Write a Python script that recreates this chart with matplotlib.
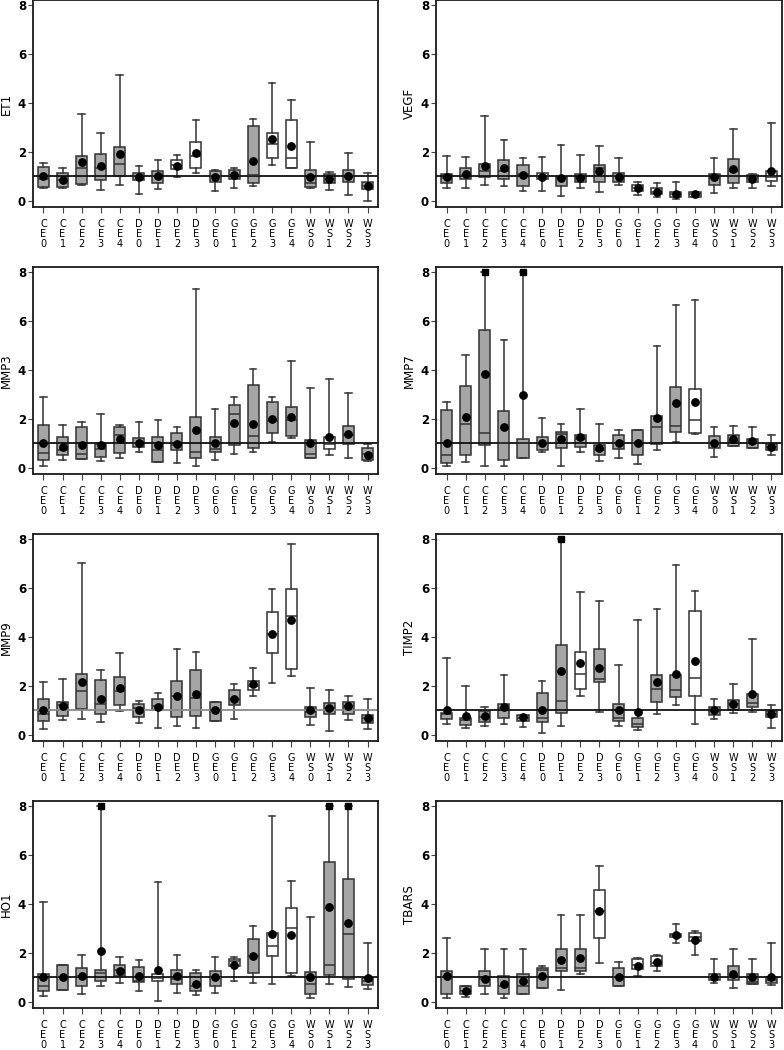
import matplotlib
matplotlib.use("Agg")
import matplotlib.pyplot as plt

plt.rcParams["font.family"] = ["DejaVu Sans"]

GROUPS = ["CE0", "CE1", "CE2", "CE3", "CE4",
          "DE0", "DE1", "DE2", "DE3",
          "GE0", "GE1", "GE2", "GE3", "GE4",
          "WS0", "WS1", "WS2", "WS3"]

# whisker low / q1 / median / q3 / whisker high / mean
ET1_LO   = [0.52, 0.52, 0.64, 0.45, 0.63, 0.27, 0.49, 0.97, 1.14, 0.41, 0.52, 0.61, 1.47, 1.36, 0.54, 0.45, 0.22, 0.00]
ET1_Q1   = [0.56, 0.56, 0.68, 0.86, 1.02, 0.84, 0.75, 1.31, 1.33, 0.79, 0.90, 0.75, 1.74, 1.36, 0.58, 0.72, 0.79, 0.48]
ET1_MED  = [0.90, 0.85, 1.36, 1.36, 1.51, 1.00, 1.00, 1.45, 1.85, 1.00, 1.05, 1.06, 2.31, 1.74, 0.75, 0.90, 1.00, 0.62]
ET1_Q3   = [1.40, 1.13, 1.85, 1.93, 2.20, 1.13, 1.20, 1.66, 2.41, 1.22, 1.27, 3.07, 2.76, 3.31, 1.24, 1.10, 1.27, 0.76]
ET1_HI   = [1.54, 1.33, 3.54, 2.79, 5.13, 1.43, 1.67, 1.88, 3.31, 1.24, 1.36, 3.36, 4.80, 4.12, 2.39, 1.18, 1.95, 1.14]
ET1_MEAN = [1.00, 0.86, 1.58, 1.44, 1.90, 0.99, 1.03, 1.44, 1.97, 0.99, 1.06, 1.63, 2.53, 2.26, 0.99, 0.90, 1.02, 0.61]
ET1_WHITE = [7, 8, 12, 13]
ET1_OFF = []

VEGF_LO   = [0.52, 0.52, 0.63, 0.59, 0.41, 0.41, 0.20, 0.54, 0.35, 0.63, 0.24, 0.15, 0.07, 0.14, 0.31, 0.52, 0.52, 0.59]
VEGF_Q1   = [0.72, 0.90, 0.99, 0.88, 0.61, 0.88, 0.61, 0.76, 0.78, 0.79, 0.42, 0.27, 0.15, 0.14, 0.63, 0.75, 0.79, 0.83]
VEGF_MED  = [0.95, 1.05, 1.20, 1.22, 1.09, 1.00, 0.95, 0.95, 1.33, 1.00, 0.54, 0.38, 0.27, 0.27, 0.95, 1.22, 0.92, 0.99]
VEGF_Q3   = [1.10, 1.36, 1.50, 1.66, 1.47, 1.13, 0.99, 1.10, 1.47, 1.13, 0.65, 0.52, 0.35, 0.38, 1.10, 1.70, 1.06, 1.22]
VEGF_HI   = [1.84, 1.78, 3.46, 2.49, 1.73, 1.78, 2.27, 1.88, 2.24, 1.73, 0.79, 0.72, 0.76, 0.38, 1.73, 2.94, 1.09, 3.17]
VEGF_MEAN = [0.99, 1.10, 1.44, 1.33, 1.06, 0.99, 0.93, 0.95, 1.22, 0.99, 0.54, 0.38, 0.27, 0.27, 0.99, 1.31, 0.90, 1.22]
VEGF_WHITE = [5, 10, 11, 12, 13, 16, 17]
VEGF_OFF = []

MMP3_LO   = [0.08, 0.31, 0.35, 0.29, 0.41, 0.65, 0.22, 0.18, 0.08, 0.31, 0.58, 0.63, 1.06, 1.20, 0.42, 0.54, 0.42, 0.29]
MMP3_Q1   = [0.31, 0.52, 0.35, 0.45, 0.61, 0.86, 0.22, 0.72, 0.41, 0.65, 0.93, 0.82, 1.44, 1.29, 0.42, 0.76, 0.97, 0.34]
MMP3_MED  = [0.61, 0.75, 0.58, 0.79, 1.33, 1.00, 0.75, 0.95, 0.65, 0.79, 2.20, 1.29, 1.90, 1.95, 0.58, 0.97, 1.35, 0.55]
MMP3_Q3   = [1.77, 1.27, 1.67, 0.97, 1.65, 1.20, 1.27, 1.44, 2.08, 1.24, 2.56, 3.37, 2.67, 2.49, 1.13, 1.24, 1.70, 0.83]
MMP3_HI   = [2.90, 1.76, 1.88, 2.18, 1.76, 1.88, 1.97, 1.65, 7.29, 2.39, 2.90, 4.05, 2.90, 4.35, 3.28, 3.62, 3.06, 0.97]
MMP3_MEAN = [1.03, 0.86, 0.95, 0.93, 1.16, 1.03, 0.93, 0.97, 1.56, 1.03, 1.84, 1.78, 2.01, 2.08, 1.03, 1.24, 1.37, 0.54]
MMP3_WHITE = [15]
MMP3_OFF = []

MMP7_LO   = [0.08, 0.24, 0.08, 0.08, 0.41, 0.65, 0.08, 0.63, 0.29, 0.41, 0.15, 0.72, 1.06, 1.37, 0.45, 0.90, 0.82, 0.54]
MMP7_Q1   = [0.20, 0.54, 0.95, 0.34, 0.41, 0.72, 0.82, 0.86, 0.54, 0.76, 0.54, 0.97, 1.47, 1.44, 0.82, 0.90, 0.82, 0.72]
MMP7_MED  = [0.54, 1.78, 1.44, 1.00, 1.00, 1.00, 1.37, 1.16, 0.75, 1.00, 1.00, 1.67, 1.71, 1.97, 1.00, 1.10, 1.00, 0.85]
MMP7_Q3   = [2.38, 3.33, 5.62, 2.31, 1.17, 1.24, 1.47, 1.36, 0.93, 1.33, 1.54, 2.11, 3.31, 3.20, 1.29, 1.33, 1.16, 0.99]
MMP7_HI   = [2.68, 4.59, 8.00, 5.20, 8.00, 2.04, 1.81, 2.42, 1.81, 1.56, 1.54, 4.99, 6.63, 6.87, 1.67, 1.71, 1.67, 1.36]
MMP7_MEAN = [1.03, 2.08, 3.85, 1.67, 2.99, 1.03, 1.16, 1.27, 0.82, 1.03, 1.03, 2.04, 2.63, 2.69, 1.03, 1.17, 1.09, 0.86]
MMP7_WHITE = [13]
MMP7_OFF = [2, 4]

MMP9_LO   = [0.26, 0.60, 0.64, 0.54, 0.98, 0.48, 0.27, 0.37, 0.30, 0.57, 0.64, 1.59, 2.10, 2.41, 0.41, 0.16, 0.60, 0.23]
MMP9_Q1   = [0.57, 0.78, 1.05, 0.84, 1.21, 0.75, 1.02, 0.73, 0.78, 0.57, 1.21, 1.84, 3.36, 2.68, 0.73, 0.87, 0.84, 0.48]
MMP9_MED  = [0.84, 1.20, 1.80, 1.25, 1.80, 1.10, 1.18, 1.59, 1.52, 1.00, 1.45, 2.00, 4.11, 4.84, 0.95, 1.09, 1.16, 0.68]
MMP9_Q3   = [1.46, 1.36, 2.48, 2.24, 2.38, 1.28, 1.46, 2.20, 2.65, 1.35, 1.84, 2.20, 5.02, 5.96, 1.12, 1.32, 1.35, 0.80]
MMP9_HI   = [2.14, 2.30, 7.02, 2.64, 3.36, 1.39, 1.70, 3.52, 3.40, 1.35, 2.07, 2.72, 5.97, 7.81, 1.90, 1.84, 1.59, 1.48]
MMP9_MEAN = [1.01, 1.16, 2.16, 1.48, 1.90, 1.02, 1.12, 1.59, 1.66, 1.01, 1.46, 2.07, 4.11, 4.68, 1.01, 1.09, 1.16, 0.68]
MMP9_WHITE = [11, 12, 13]
MMP9_OFF = []

TIMP2_LO   = [0.44, 0.27, 0.37, 0.44, 0.33, 0.07, 0.37, 1.59, 0.95, 0.37, 0.19, 0.84, 1.22, 0.46, 0.64, 0.91, 0.94, 0.30]
TIMP2_Q1   = [0.64, 0.41, 0.54, 0.67, 0.57, 0.53, 0.91, 1.89, 2.14, 0.57, 0.33, 1.36, 1.56, 1.59, 0.80, 1.02, 1.14, 0.73]
TIMP2_MED  = [0.84, 0.60, 0.75, 1.10, 0.70, 0.68, 1.39, 2.48, 2.27, 0.68, 0.45, 1.89, 1.84, 2.34, 0.98, 1.25, 1.32, 0.85]
TIMP2_Q3   = [0.91, 0.68, 0.98, 1.25, 0.82, 1.70, 3.67, 3.40, 3.50, 1.28, 0.67, 2.44, 2.44, 5.07, 1.14, 1.41, 1.66, 0.98]
TIMP2_HI   = [3.13, 2.00, 1.12, 2.44, 0.82, 2.20, 8.00, 5.84, 5.48, 2.84, 4.67, 5.14, 6.93, 5.89, 1.48, 2.07, 3.90, 1.22]
TIMP2_MEAN = [1.02, 0.78, 0.78, 1.14, 0.71, 1.02, 2.61, 2.93, 2.72, 1.02, 0.95, 2.16, 2.48, 3.02, 1.02, 1.28, 1.66, 0.87]
TIMP2_WHITE = [7, 13]
TIMP2_OFF = [6]

HO1_LO   = [0.23, 0.50, 0.33, 0.64, 0.78, 0.44, 0.05, 0.37, 0.27, 0.37, 0.84, 0.78, 0.71, 1.05, 0.16, 0.75, 0.60, 0.53]
HO1_Q1   = [0.46, 0.50, 0.64, 0.84, 1.05, 0.80, 0.84, 0.73, 0.44, 0.64, 1.48, 1.16, 1.89, 1.18, 0.34, 1.09, 0.95, 0.68]
HO1_MED  = [0.64, 1.00, 1.05, 1.18, 1.30, 0.84, 0.98, 0.94, 0.64, 1.00, 1.66, 1.89, 2.27, 3.01, 0.71, 1.52, 2.78, 0.84]
HO1_Q3   = [1.14, 1.50, 1.39, 1.32, 1.52, 1.43, 1.12, 1.32, 1.16, 1.28, 1.77, 2.57, 2.82, 3.84, 1.21, 5.71, 5.03, 0.98]
HO1_HI   = [4.08, 1.50, 1.93, 8.00, 1.84, 1.69, 4.88, 1.93, 1.32, 1.84, 1.84, 3.09, 7.59, 4.93, 3.47, 8.00, 8.00, 2.41]
HO1_MEAN = [1.02, 1.02, 1.07, 2.07, 1.28, 1.05, 1.32, 1.07, 0.71, 1.02, 1.50, 1.89, 2.78, 2.75, 1.02, 3.88, 3.22, 0.98]
HO1_WHITE = [6, 10, 12, 13]
HO1_OFF = [3, 15, 16]

TBARS_LO   = [0.16, 0.19, 0.33, 0.16, 0.34, 0.57, 0.48, 1.12, 1.59, 0.64, 1.05, 1.28, 2.41, 1.93, 0.78, 0.57, 0.75, 0.68]
TBARS_Q1   = [0.33, 0.33, 0.64, 0.33, 0.34, 0.57, 1.25, 1.25, 2.59, 0.64, 1.35, 1.46, 2.65, 2.48, 0.91, 0.88, 0.75, 0.78]
TBARS_MED  = [1.00, 0.45, 0.95, 0.64, 0.64, 1.30, 1.39, 1.39, 3.70, 1.00, 1.52, 1.59, 2.72, 2.64, 1.00, 1.05, 0.80, 0.91]
TBARS_Q3   = [1.25, 0.64, 1.25, 1.05, 1.12, 1.39, 2.14, 2.14, 4.56, 1.39, 1.77, 1.86, 2.78, 2.82, 1.12, 1.48, 1.12, 1.02]
TBARS_HI   = [2.59, 0.64, 2.14, 2.14, 2.14, 1.48, 3.56, 3.56, 5.56, 1.62, 1.80, 1.93, 3.16, 2.88, 1.73, 2.14, 1.73, 2.41]
TBARS_MEAN = [1.05, 0.44, 0.94, 0.71, 0.84, 1.05, 1.69, 1.80, 3.70, 1.02, 1.48, 1.62, 2.72, 2.54, 1.02, 1.12, 1.02, 1.02]
TBARS_WHITE = [8, 10, 11, 12, 13, 14]
TBARS_OFF = []

PANELS = [
    ("ET1", ET1_LO, ET1_Q1, ET1_MED, ET1_Q3, ET1_HI, ET1_MEAN, ET1_WHITE, ET1_OFF),
    ("VEGF", VEGF_LO, VEGF_Q1, VEGF_MED, VEGF_Q3, VEGF_HI, VEGF_MEAN, VEGF_WHITE, VEGF_OFF),
    ("MMP3", MMP3_LO, MMP3_Q1, MMP3_MED, MMP3_Q3, MMP3_HI, MMP3_MEAN, MMP3_WHITE, MMP3_OFF),
    ("MMP7", MMP7_LO, MMP7_Q1, MMP7_MED, MMP7_Q3, MMP7_HI, MMP7_MEAN, MMP7_WHITE, MMP7_OFF),
    ("MMP9", MMP9_LO, MMP9_Q1, MMP9_MED, MMP9_Q3, MMP9_HI, MMP9_MEAN, MMP9_WHITE, MMP9_OFF),
    ("TIMP2", TIMP2_LO, TIMP2_Q1, TIMP2_MED, TIMP2_Q3, TIMP2_HI, TIMP2_MEAN, TIMP2_WHITE, TIMP2_OFF),
    ("HO1", HO1_LO, HO1_Q1, HO1_MED, HO1_Q3, HO1_HI, HO1_MEAN, HO1_WHITE, HO1_OFF),
    ("TBARS", TBARS_LO, TBARS_Q1, TBARS_MED, TBARS_Q3, TBARS_HI, TBARS_MEAN, TBARS_WHITE, TBARS_OFF),
]

GRAY = "#a5a5a5"
EDGE = "#333333"
W, H = 784, 1050


def draw_panel(ax, name, lo, q1, med, q3, hi, mean, white, off):
    stats = [dict(whislo=a, q1=b, med=c, q3=d, whishi=e, mean=m, fliers=[])
             for a, b, c, d, e, m in zip(lo, q1, med, q3, hi, mean)]
    res = ax.bxp(stats, positions=range(len(stats)), widths=0.58, capwidths=0.34,
                 patch_artist=True, showmeans=True, showfliers=False,
                 boxprops=dict(edgecolor=EDGE, linewidth=1.1),
                 whiskerprops=dict(color=EDGE, linewidth=1.1),
                 capprops=dict(color=EDGE, linewidth=1.1),
                 medianprops=dict(color=EDGE, linewidth=1.1),
                 meanprops=dict(marker="o", markerfacecolor="black",
                                markeredgecolor="black", markersize=5.3))
    for i, box in enumerate(res["boxes"]):
        box.set_facecolor("white" if i in white else GRAY)

    ref_color = "#8a8a8a" if name == "MMP9" else "#111111"
    ax.axhline(1, color=ref_color, lw=1.3, zorder=2.05)
    if off:
        ax.plot(off, [8] * len(off), "s", color="black", ms=4.5, zorder=3, clip_on=False)

    ax.set_xlim(-0.55, len(stats) - 0.45)
    ax.set_ylim(-0.25, 8.2)
    ax.set_yticks([0, 2, 4, 6, 8])
    ax.set_xticks(range(len(GROUPS)))
    ax.set_xticklabels(["\n".join(g) for g in GROUPS], fontsize=7, linespacing=1.0)
    ax.tick_params(axis="x", length=4, width=0.8, color="#444444", pad=4.5)
    ax.tick_params(axis="y", length=3.5, width=0.8, color="#444444", pad=1.5, labelsize=8.5)
    for lab in ax.get_yticklabels():
        lab.set_fontweight("bold")
    for sp in ax.spines.values():
        sp.set_linewidth(1.3)
        sp.set_color("#1a1a1a")
    ax.set_ylabel(name, fontsize=8.5)
    ax.yaxis.set_label_coords(-0.058, 0.5)


fig = plt.figure(figsize=(W / 100, H / 100), dpi=100)
col_left = [33, 436]
col_width = [345, 346]
for k, panel in enumerate(PANELS):
    row, col = divmod(k, 2)
    top = 267 * row
    ax = fig.add_axes([col_left[col] / W, 1 - (top + 207) / H, col_width[col] / W, 207 / H])
    draw_panel(ax, *panel)

fig.savefig("out.png", dpi=100)
